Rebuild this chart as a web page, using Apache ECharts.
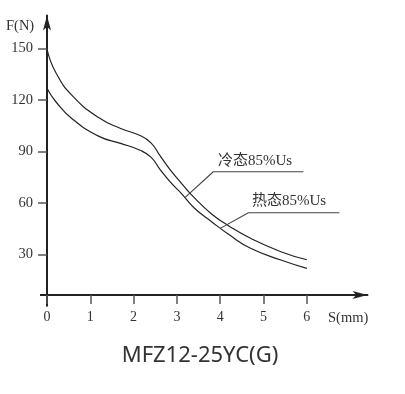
<!DOCTYPE html>
<html>
<head>
<meta charset="utf-8">
<script src="https://cdn.jsdelivr.net/npm/echarts@6/dist/echarts.min.js"></script>
<style>html,body{margin:0;padding:0;background:#fff;}#c{width:405px;height:394px;}</style>
</head>
<body>
<div id="c"></div>
<script>
// Data
const S_VALUES = [0, 0.2, 0.6, 1.2, 1.7, 2.15, 2.4, 2.6, 2.85, 3.1, 3.4, 3.8, 4.2, 4.7, 5.4, 6];
const F_COLD = [149.5, 136, 122, 109.5, 103.3, 99.2, 94.9, 87.8, 79, 71.5, 63, 53.5, 46.5, 39.3, 31.5, 26.8];
const F_HOT = [126.7, 119, 108.5, 98.7, 94.6, 90.6, 86.6, 79.8, 72, 65.5, 57, 49, 41.5, 33.5, 26.7, 21.8];
const X_TICKS = [0, 1, 2, 3, 4, 5, 6];
const Y_TICKS = [30, 60, 90, 120, 150];
const COLD_LEADER_S = [3.19, 3.84, 5.92];
const COLD_LEADER_F = [63.2, 78.1, 78.1];
const HOT_LEADER_S = [4.0, 4.65, 6.75];
const HOT_LEADER_F = [45.1, 54.2, 54.2];
const COLD_LABEL = '冷态85%Us';
const HOT_LABEL = '热态85%Us';
const TITLE = 'MFZ12-25YC(G)';

const pairs = (xs, ys) => xs.map((x, i) => [x, ys[i]]);
const serif = '"Liberation Serif", "Noto Sans CJK SC", serif';

const chart = echarts.init(document.getElementById('c'), null, {renderer: 'canvas'});
chart.setOption({
  animation: false,
  backgroundColor: '#fff',
  grid: {left: 47, top: 15.5, right: 37.5, bottom: 88.2, containLabel: false},
  xAxis: {
    type: 'value', min: 0, max: 7.4, interval: 1, offset: -10.8,
    axisLine: {onZero: false, show: true, symbol: ['none', 'arrow'], symbolSize: [6, 15], lineStyle: {color: '#222', width: 2}},
    axisTick: {show: true, length: 9, customValues: X_TICKS, lineStyle: {color: '#555', width: 1.5}},
    axisLabel: {customValues: X_TICKS, margin: 15, fontSize: 14, fontFamily: serif, color: '#333'},
    splitLine: {show: false}
  },
  yAxis: {
    type: 'value', min: 0, max: 169.1, interval: 30,
    axisLine: {onZero: false, show: true, symbol: ['none', 'arrow'], symbolSize: [6, 15], lineStyle: {color: '#222', width: 2}},
    axisTick: {show: true, length: 9, customValues: Y_TICKS, lineStyle: {color: '#555', width: 1.5}},
    axisLabel: {customValues: Y_TICKS, margin: 14, fontSize: 14.5, fontFamily: serif, color: '#333'},
    splitLine: {show: false}
  },
  series: [
    {type: 'line', data: pairs(S_VALUES, F_COLD), smooth: 0.5, symbol: 'none', lineStyle: {color: '#222', width: 1.2}},
    {type: 'line', data: pairs(S_VALUES, F_HOT), smooth: 0.5, symbol: 'none', lineStyle: {color: '#222', width: 1.2}},
    {type: 'line', data: pairs(COLD_LEADER_S, COLD_LEADER_F), symbol: 'none', lineStyle: {color: '#444', width: 1.1}},
    {type: 'line', data: pairs(HOT_LEADER_S, HOT_LEADER_F), symbol: 'none', lineStyle: {color: '#444', width: 1.1}}
  ],
  graphic: [
    {type: 'line', shape: {x1: 40, y1: 295, x2: 48, y2: 295}, style: {stroke: '#222', lineWidth: 2}},
    {type: 'text', left: 6, top: 19, style: {text: 'F(N)', font: '14.5px ' + serif, fill: '#333'}},
    {type: 'text', left: 328, top: 311, style: {text: 'S(mm)', font: '14.5px ' + serif, fill: '#333'}},
    {type: 'text', left: 218, top: 154, style: {text: COLD_LABEL, font: '15px ' + serif, fill: '#333'}},
    {type: 'text', left: 252, top: 194, style: {text: HOT_LABEL, font: '15px ' + serif, fill: '#333'}},
    {type: 'text', x: 200, y: 356, style: {text: TITLE, font: '22px "Noto Sans", sans-serif', fill: '#333', align: 'center', verticalAlign: 'middle'}}
  ]
});
</script>
</body>
</html>
